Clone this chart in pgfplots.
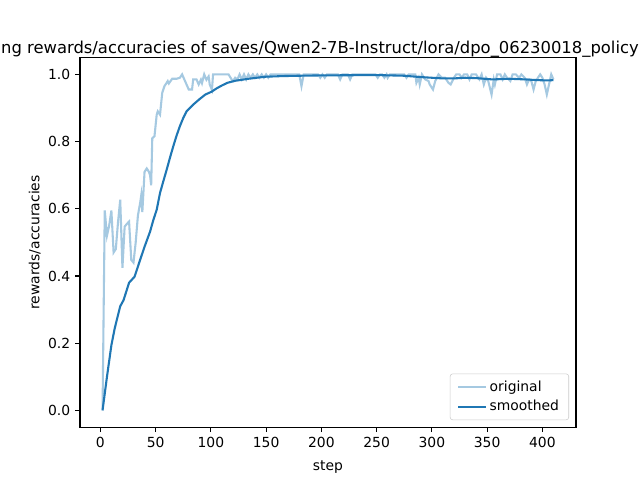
\documentclass[border=0pt]{standalone}
\usepackage{pgfplots}
\pgfplotsset{compat=1.18}
\usepackage{fontspec}
\setmainfont{DejaVu Sans}
\definecolor{smoothcol}{HTML}{1F77B4}
\definecolor{origcol}{HTML}{A5C9E1}
\begin{document}
\begin{tikzpicture}[x=1pt,y=1pt]
\useasboundingbox (-57.6pt,-38.02pt) rectangle (403.2pt,307.58pt);
\clip (-57.6pt,-38.02pt) rectangle (403.2pt,307.58pt);
\fill[white] (-57.6pt,-38.02pt) rectangle (403.2pt,307.58pt);
\begin{axis}[
  at={(0pt,0pt)}, anchor=south west,
  scale only axis, width=357.12pt, height=266.11pt,
  xmin=-18.4, xmax=430.4, ymin=-0.05, ymax=1.05,
  xtick={0,50,100,150,200,250,300,350,400},
  ytick={0,0.2,0.4,0.6,0.8,1.0},
  yticklabel style={/pgf/number format/.cd,fixed,fixed zerofill,precision=1},
  /pgf/number format/assume math mode=true,
  tick pos=left, tick align=outside,
  major tick length=3.5pt,
  every tick/.style={black, line width=0.8pt},
  axis line style={line width=0.8pt},
  ticklabel style={font=\fontsize{10}{12}\selectfont},
  label style={font=\fontsize{10}{12}\selectfont},
  xlabel={step}, ylabel={rewards/accuracies},
  xlabel style={yshift=-3pt},
  ylabel style={yshift=-1.5pt},
  legend style={at={(0.986,0.019)}, anchor=south east, draw=black!20, rounded corners=2pt,
     font=\fontsize{10}{12}\selectfont, row sep=1pt, inner xsep=5pt, inner ysep=3pt},
  legend cell align=left,
  legend image code/.code={\draw[#1] (0pt,0pt) -- (20pt,0pt);},
]
\addplot[origcol, line width=1.5pt] coordinates {
(2,0.0) (4,0.595) (6,0.52) (8,0.55) (10,0.595) (12,0.47) (14,0.48) (16,0.56) (18,0.627) (20,0.424)
(22,0.547) (24,0.555) (26,0.562) (28,0.448) (30,0.44) (32,0.50) (34,0.58) (36,0.617) (37,0.64) (38,0.59)
(40,0.71) (42,0.72) (44,0.71) (45,0.70) (46,0.67) (47,0.81) (49,0.816) (51,0.88) (52,0.89) (54,0.88)
(56,0.945) (58,0.965) (61,0.98) (62,0.973) (65,0.987) (69,0.987) (72,0.99) (74,1.0) (76,0.985) (78,0.97)
(80,0.955) (83,0.955) (84,0.985) (87,0.985) (89,0.97) (91,0.984) (92,0.974) (94,1.0) (96,0.984) (98,0.994)
(99,0.97) (101,0.954) (102,1.0) (116,1.0) (119,0.984) (120,0.98) (122,0.99) (124,0.985) (126,1.0) (128,0.985)
(130,1.0) (132,0.985) (134,1.0) (136,0.99) (138,1.0) (140,0.99) (142,1.0) (144,0.99) (146,1.0) (148,0.99)
(150,1.0) (152,0.99) (154,1.0) (160,1.0) (180,1.0) (182,0.965) (184,1.0) (197,1.0) (199,0.99) (201,1.0)
(203,0.99) (205,1.0) (215,1.0) (217,0.985) (219,1.0) (224,1.0) (226,0.985) (228,1.0) (249,1.0) (251,0.99)
(253,1.0) (255,1.0) (257,0.99) (259,1.0) (260,0.99) (262,1.0) (275,1.0) (277,0.99) (279,1.0) (285,1.0)
(286,0.975) (288,0.99) (289,0.97) (291,1.0) (294,0.985) (297,0.98) (298,0.97) (301,0.955) (303,0.98) (306,1.0)
(309,0.99) (312,0.99) (315,0.975) (317,0.97) (320,0.99) (322,1.0) (325,1.0) (327,0.99) (329,1.0) (332,1.0)
(334,0.985) (336,1.0) (340,1.0) (343,0.985) (345,1.0) (347,0.97) (349,0.99) (351,0.98) (354,0.94) (356,0.985)
(357,0.97) (359,1.0) (362,1.0) (364,0.985) (366,1.0) (368,0.99) (371,0.98) (373,1.0) (376,1.0) (379,0.99)
(381,1.0) (384,0.99) (386,0.97) (388,0.985) (390,0.98) (392,0.955) (394,0.98) (396,0.99) (398,1.0) (400,0.99)
(402,0.97) (404,0.94) (406,0.97) (408,1.0) (410,0.985)
};
\addlegendentry{original}
\addplot[smoothcol, line width=1.5pt] coordinates {
(2,0) (6,0.10) (10,0.194) (13,0.244) (18,0.31) (21,0.328) (26,0.38) (31,0.398) (36,0.448) (40,0.487)
(45,0.532) (48,0.567) (51,0.597) (54,0.647) (57,0.682) (60,0.716) (63,0.752) (66,0.786) (69,0.818) (72,0.846)
(75,0.87) (78,0.89) (84,0.91) (90,0.927) (95,0.94) (101,0.949) (105,0.958) (110,0.967) (115,0.975) (122,0.981)
(128,0.984) (134,0.987) (149,0.993) (165,0.995) (180,0.996) (200,0.997) (250,0.998) (275,0.996) (290,0.992) (300,0.99)
(310,0.988) (320,0.988) (330,0.990) (340,0.989) (355,0.985) (370,0.987) (385,0.985) (395,0.983) (405,0.982) (410,0.983)
};
\addlegendentry{smoothed}
\end{axis}
\node[anchor=base east, font=\fontsize{11.8}{14}\selectfont, inner sep=0pt] at (402.5pt,269.2pt)
  {training rewards/accuracies of saves/Qwen2-7B-Instruct/lora/dpo\_06230018\_policy};
\end{tikzpicture}
\end{document}
